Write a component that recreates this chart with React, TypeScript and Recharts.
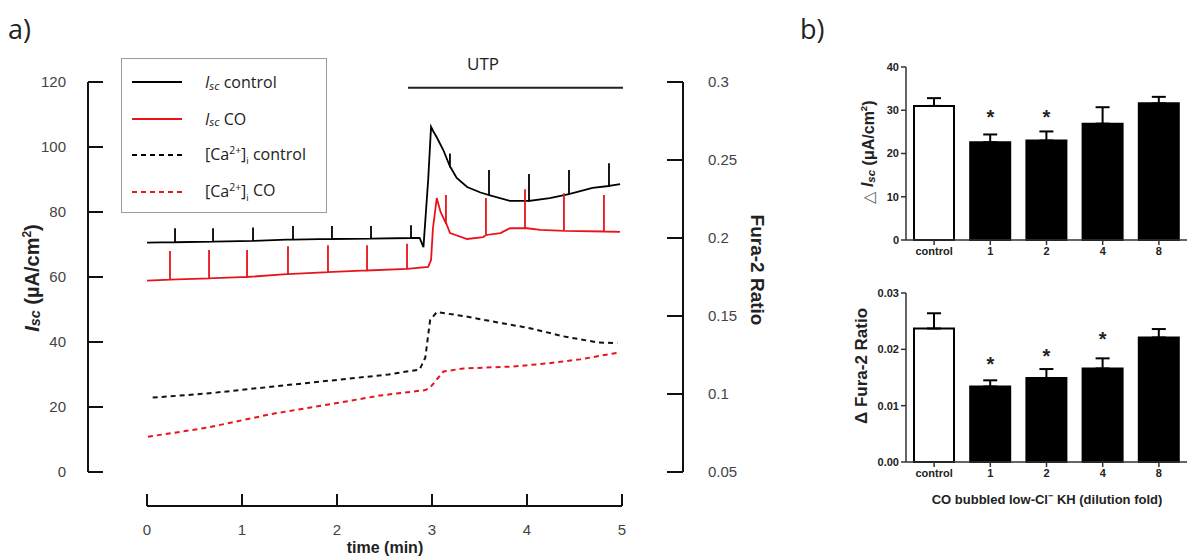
import React from 'react';
import {
  LineChart, Line, XAxis, YAxis, ReferenceLine, Legend,
  ComposedChart, Bar, ErrorBar, Cell,
} from 'recharts';

// ---- panel a: time course (t in min) ----
const timeTicks = [0, 1, 2, 3, 4, 5];
const iscTicks = [0, 20, 40, 60, 80, 100, 120];
const ratioTicks = [0.05, 0.1, 0.15, 0.2, 0.25, 0.3];

// [t, Isc]
const iscControlBase = [
  [0, 70.6], [1.47, 71.5], [2.87, 72.0], [2.91, 69.2], [2.96, 90], [2.99, 106.2],
  [3.01, 105], [3.05, 103], [3.12, 99], [3.19, 94], [3.26, 90.5], [3.37, 87.7],
  [3.51, 86], [3.6, 85.2], [3.82, 83.4], [4.02, 83.4], [4.24, 84.3], [4.44, 85.5],
  [4.69, 87.4], [4.86, 88], [4.98, 88.6],
];
// [t, base, top]
const iscControlSpikes = [
  [0.295, 70.7, 75], [0.695, 70.9, 75], [1.116, 71.1, 75.2], [1.537, 71.5, 75.7],
  [1.947, 71.7, 75.7], [2.358, 71.8, 75.7], [2.779, 72.0, 75.9],
  [3.189, 94, 98], [3.6, 85.2, 92.9], [4.021, 83.4, 91.7], [4.442, 85.5, 92.9], [4.863, 88, 95],
];

const iscCoBase = [
  [0, 58.9], [1.47, 60.9], [2.74, 62.5], [2.96, 63.1], [2.99, 65.2], [3.01, 75],
  [3.05, 84.3], [3.09, 80], [3.15, 76.5], [3.19, 73.5], [3.37, 71.7], [3.54, 72.3],
  [3.72, 73.5], [3.82, 75], [4.0, 75], [4.14, 74.5], [4.39, 74.2], [4.81, 74], [4.98, 73.9],
];
const iscCoSpikes = [
  [0.242, 59.2, 68], [0.653, 59.6, 68.3], [1.053, 60.0, 68.3], [1.484, 60.9, 69.5],
  [1.905, 61.5, 69.8], [2.316, 62.0, 69.8], [2.737, 62.5, 70.2],
  [3.147, 76.5, 85.2], [3.568, 72.9, 84.3], [3.979, 75, 87], [4.389, 74.2, 85.8], [4.81, 74, 85.2],
];

// [t, Fura-2 ratio]
const caControl = [
  [0.06, 0.0977], [0.63, 0.1003], [1.33, 0.1048], [2.04, 0.1093], [2.45, 0.1119],
  [2.54, 0.1125], [2.87, 0.1157], [2.93, 0.1235], [2.98, 0.1473], [3.05, 0.1525],
  [3.33, 0.15], [3.68, 0.146], [4.03, 0.1422], [4.38, 0.137], [4.74, 0.1331], [4.95, 0.1325],
];
const caCo = [
  [0.01, 0.0726], [0.63, 0.0784], [1.33, 0.0874], [2.03, 0.0945], [2.45, 0.099],
  [2.93, 0.1025], [2.98, 0.1041], [3.12, 0.1144], [3.33, 0.1164], [3.85, 0.1176],
  [4.21, 0.1196], [4.56, 0.1222], [4.91, 0.126], [4.98, 0.1267],
];

const utpStart = 2.747;
const utpEnd = 5.01;

// ---- panel b ----
const groups = ['control', '1', '2', '4', '8'];
const dIsc = [31.0, 22.6, 23.0, 26.9, 31.6];
const dIscErr = [1.8, 1.8, 2.1, 3.8, 1.5];
const dIscStar = [null, 29.6, 29.6, null, null];
const dIscTicks = [0, 10, 20, 30, 40];

const dFura = [0.0237, 0.0134, 0.0149, 0.0166, 0.0221];
const dFuraErr = [0.0027, 0.0011, 0.0016, 0.0018, 0.0015];
const dFuraStar = [null, 0.0182, 0.0197, 0.0228, null];
const dFuraTicks = [0, 0.01, 0.02, 0.03];

const RED = '#e8141c';
const ARIAL = '"Liberation Sans", Arial, sans-serif';
const SANS = '"Open Sans", "Liberation Sans", sans-serif';

// plot area of panel a is wider than the time range (axes stand apart)
const X_DOMAIN: [number, number] = [-0.6211, 5.6421];
const ISC_MIN = -10.46;
const L_DOMAIN: [number, number] = [ISC_MIN, 120];
const R_DOMAIN: [number, number] = [0.05 + ISC_MIN / 480, 0.3];

const withSpikes = (base: number[][], spikes: number[][]) =>
  [
    ...base.map(([t, v]) => ({ t, v })),
    ...spikes.flatMap(([t, b, top]) => [{ t, v: b }, { t, v: top }, { t, v: b }]),
  ].sort((a, b) => a.t - b.t);

const toPts = (arr: number[][]) => arr.map(([t, v]) => ({ t, v }));

const LeftTick = ({ x, y, payload }: any) => (
  <g>
    <line x1={x} y1={y} x2={x + 15} y2={y} stroke="#111" strokeWidth={2} />
    <text x={x - 22} y={y + 5} textAnchor="end" fontSize={15} fill="#444" fontFamily={ARIAL}>
      {payload.value}
    </text>
  </g>
);

const RightTick = ({ x, y, payload }: any) => (
  <g>
    <line x1={x} y1={y} x2={x - 16} y2={y} stroke="#111" strokeWidth={2} />
    <text x={x + 25} y={y + 5} textAnchor="start" fontSize={15} fill="#444" fontFamily={ARIAL}>
      {payload.value}
    </text>
  </g>
);

const TimeTick = ({ x, y, payload }: any) => (
  <g>
    <line x1={x} y1={y} x2={x} y2={y - 12} stroke="#111" strokeWidth={2} />
    <text x={x} y={y + 29} textAnchor="middle" fontSize={15} fill="#444" fontFamily={ARIAL}>
      {payload.value}
    </text>
  </g>
);

const Isc = () => (
  <span style={{ fontStyle: 'italic' }}>
    I<span style={{ fontSize: '0.72em', position: 'relative', top: '0.12em' }}>sc</span>
  </span>
);

const Ca = () => (
  <span>
    [Ca<sup style={{ fontSize: '0.65em' }}>2+</sup>]<sub style={{ fontSize: '0.6em' }}>i</sub>
  </span>
);

const legendRows = [
  { color: '#000', dash: undefined, label: <><Isc /> control</> },
  { color: RED, dash: undefined, label: <><Isc /> CO</> },
  { color: '#000', dash: '5 4', label: <><Ca /> control</> },
  { color: RED, dash: '5 4', label: <><Ca /> CO</> },
];

const LegendBox = () => (
  <div style={{
    width: 206, height: 155, border: '1px solid #9a9a9a', background: '#fff',
    boxSizing: 'border-box', paddingTop: 5, fontFamily: SANS, fontSize: 16, color: '#222',
  }}>
    {legendRows.map((r, i) => (
      <div key={i} style={{ height: 36.5, display: 'flex', alignItems: 'center' }}>
        <svg width={80} height={10} style={{ flex: 'none' }}>
          <line x1={10} y1={5} x2={60} y2={5} stroke={r.color} strokeWidth={2} strokeDasharray={r.dash} />
        </svg>
        <span style={{ marginLeft: 3, whiteSpace: 'nowrap' }}>{r.label}</span>
      </div>
    ))}
  </div>
);

const StarDot = (props: any) => {
  const { cx, cy, value, index } = props;
  if (value == null || cy == null) return <g key={index} />;
  return (
    <text key={index} x={cx} y={cy + 12} textAnchor="middle" fontSize={20} fontWeight="bold" fill="#222" fontFamily={ARIAL}>
      *
    </text>
  );
};

const barTick = { fontSize: 11, fontWeight: 'bold', fill: '#222', fontFamily: ARIAL } as const;

function BarPanel({ values, errs, stars, ticks, fmt, top, height, marginTop, marginBottom }: any) {
  const data = groups.map((g, i) => ({ name: g, val: values[i], err: [0, errs[i]], star: stars[i] }));
  const max = ticks[ticks.length - 1];
  return (
    <div style={{ position: 'absolute', left: 800, top }}>
      <ComposedChart width={398} height={height} data={data}
        margin={{ top: marginTop, right: 11, bottom: marginBottom, left: 66 }}>
        <XAxis dataKey="name" height={30} tick={barTick} tickSize={5} tickMargin={2}
          axisLine={{ stroke: '#333', strokeWidth: 1.5 }} tickLine={{ stroke: '#333', strokeWidth: 1.5 }} />
        <YAxis width={40} domain={[0, max]} ticks={ticks} interval={0} tickFormatter={fmt} tick={barTick}
          tickSize={5} tickMargin={2}
          axisLine={{ stroke: '#333', strokeWidth: 1.5 }} tickLine={{ stroke: '#333', strokeWidth: 1.5 }} />
        <Bar dataKey="val" barSize={40} stroke="#000" strokeWidth={2} isAnimationActive={false}>
          {data.map((d, i) => <Cell key={d.name} fill={i === 0 ? '#fff' : '#000'} />)}
          <ErrorBar dataKey="err" width={7} stroke="#000" strokeWidth={2} direction="y" />
        </Bar>
        <Line dataKey="star" stroke="none" dot={StarDot} activeDot={false} isAnimationActive={false} />
      </ComposedChart>
    </div>
  );
}

export default function App() {
  const seriesIscCtl = withSpikes(iscControlBase, iscControlSpikes);
  const seriesIscCo = withSpikes(iscCoBase, iscCoSpikes);

  return (
    <div style={{ position: 'absolute', left: 0, top: 0, width: 1198, height: 559, background: '#fff', overflow: 'hidden' }}>
      <div style={{ position: 'absolute', left: 8, top: 10, fontSize: 27, fontFamily: SANS, color: '#222' }}>a)</div>
      <div style={{ position: 'absolute', left: 800, top: 10, fontSize: 27, fontFamily: SANS, color: '#222' }}>b)</div>

      <div style={{ position: 'absolute', left: 0, top: 0 }}>
        <LineChart width={800} height={559} margin={{ top: 82, right: 116, bottom: 52, left: 87 }}>
          <XAxis dataKey="t" type="number" domain={X_DOMAIN} allowDataOverflow ticks={timeTicks} interval={0}
            height={1} axisLine={false} tickLine={false} tickSize={0} tickMargin={0} tick={<TimeTick />} />
          <YAxis yAxisId="l" domain={L_DOMAIN} allowDataOverflow ticks={iscTicks} interval={0}
            width={1} axisLine={false} tickLine={false} tickSize={0} tickMargin={0} tick={<LeftTick />} />
          <YAxis yAxisId="r" orientation="right" domain={R_DOMAIN} allowDataOverflow ticks={ratioTicks} interval={0}
            width={1} axisLine={false} tickLine={false} tickSize={0} tickMargin={0} tick={<RightTick />} />

          <ReferenceLine yAxisId="l" segment={[{ x: 0, y: ISC_MIN }, { x: 5, y: ISC_MIN }]} stroke="#111" strokeWidth={2} ifOverflow="visible" />
          <ReferenceLine yAxisId="l" segment={[{ x: X_DOMAIN[0], y: 0 }, { x: X_DOMAIN[0], y: 120 }]} stroke="#111" strokeWidth={2} ifOverflow="visible" />
          <ReferenceLine yAxisId="r" segment={[{ x: X_DOMAIN[1], y: 0.05 }, { x: X_DOMAIN[1], y: 0.3 }]} stroke="#111" strokeWidth={2} ifOverflow="visible" />
          <ReferenceLine yAxisId="l" segment={[{ x: utpStart, y: 118.2 }, { x: utpEnd, y: 118.2 }]} stroke="#222" strokeWidth={2} ifOverflow="visible" />

          <Line yAxisId="r" data={toPts(caControl)} dataKey="v" type="linear" stroke="#111" strokeWidth={2}
            strokeDasharray="5 4" dot={false} isAnimationActive={false} />
          <Line yAxisId="r" data={toPts(caCo)} dataKey="v" type="linear" stroke={RED} strokeWidth={2}
            strokeDasharray="5 4" dot={false} isAnimationActive={false} />
          <Line yAxisId="l" data={seriesIscCtl} dataKey="v" type="linear" stroke="#000" strokeWidth={1.8}
            dot={false} isAnimationActive={false} />
          <Line yAxisId="l" data={seriesIscCo} dataKey="v" type="linear" stroke={RED} strokeWidth={1.8}
            dot={false} isAnimationActive={false} />

          <Legend layout="vertical" align="center" verticalAlign="middle" content={<LegendBox />}
            wrapperStyle={{ left: 121, top: 58, width: 208, height: 157 }} />
        </LineChart>
      </div>

      <div style={{ position: 'absolute', left: 483, top: 63, transform: 'translate(-50%, -50%)', fontSize: 17, fontFamily: SANS, color: '#222' }}>UTP</div>

      <div style={{
        position: 'absolute', left: 32, top: 278, transform: 'translate(-50%, -50%) rotate(-90deg)',
        whiteSpace: 'nowrap', fontSize: 20, fontWeight: 'bold', fontFamily: ARIAL, color: '#222',
      }}>
        <Isc /> (µA/cm<sup style={{ fontSize: '0.6em' }}>2</sup>)
      </div>
      <div style={{
        position: 'absolute', left: 757, top: 270, transform: 'translate(-50%, -50%) rotate(90deg)',
        whiteSpace: 'nowrap', fontSize: 19, fontWeight: 'bold', fontFamily: ARIAL, color: '#222',
      }}>
        Fura-2 Ratio
      </div>
      <div style={{ position: 'absolute', left: 385, top: 548, transform: 'translate(-50%, -50%)', fontSize: 16, fontWeight: 'bold', fontFamily: ARIAL, color: '#222' }}>
        time (min)
      </div>

      <BarPanel values={dIsc} errs={dIscErr} stars={dIscStar} ticks={dIscTicks} fmt={(v: number) => String(v)}
        top={40} height={230} marginTop={27} marginBottom={0} />
      <BarPanel values={dFura} errs={dFuraErr} stars={dFuraStar} ticks={dFuraTicks} fmt={(v: number) => v.toFixed(2)}
        top={270} height={289} marginTop={23} marginBottom={67} />

      <div style={{
        position: 'absolute', left: 868, top: 152, transform: 'translate(-50%, -50%) rotate(-90deg)',
        whiteSpace: 'nowrap', fontSize: 16, fontWeight: 'bold', fontFamily: ARIAL, color: '#222',
      }}>
        <span style={{ fontWeight: 'normal', color: '#666' }}>△</span> <Isc /> (μA/cm<sup style={{ fontSize: '0.6em' }}>2</sup>)
      </div>
      <div style={{
        position: 'absolute', left: 862, top: 366, transform: 'translate(-50%, -50%) rotate(-90deg)',
        whiteSpace: 'nowrap', fontSize: 17, fontWeight: 'bold', fontFamily: ARIAL, color: '#222',
      }}>
        Δ Fura-2 Ratio
      </div>
      <div style={{
        position: 'absolute', left: 1047, top: 499, transform: 'translate(-50%, -50%)',
        whiteSpace: 'nowrap', fontSize: 13, fontWeight: 'bold', fontFamily: ARIAL, color: '#222',
      }}>
        CO bubbled low-Cl<sup style={{ fontSize: '0.7em' }}>−</sup> KH (dilution fold)
      </div>
    </div>
  );
}
